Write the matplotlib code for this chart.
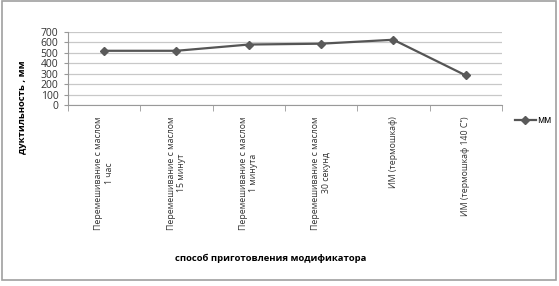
import numpy as np
import matplotlib
matplotlib.use('Agg')
from matplotlib import pyplot as plt
from matplotlib.patches import Rectangle
from matplotlib.lines import Line2D

plt.rcParams['font.family'] = ['Open Sans', 'DejaVu Sans']

categories = ['Перемешивание с маслом\n1 час',
              'Перемешивание с маслом\n15 минут',
              'Перемешивание с маслом\n1 минута',
              'Перемешивание с маслом\n30 секунд',
              'ИМ (термошкаф)',
              'ИМ (термошкаф 140 С˚)']
values = [520, 520, 580, 588, 626, 284]
y_ticks = [0, 100, 200, 300, 400, 500, 600, 700]

fig = plt.figure(figsize=(5.59, 2.86), dpi=100)
ax = fig.add_axes([0.1217, 0.633, 0.776, 0.255])

x = np.arange(len(categories))
ax.plot(x, values, color='#555555', lw=1.6, marker='D', ms=4.5,
        markerfacecolor='#5a5a5a', markeredgecolor='#5a5a5a')

ax.set_xlim(-0.5, len(categories) - 0.5)
ax.set_ylim(0, 700)
ax.set_yticks(y_ticks)
ax.yaxis.grid(True, color='#c8c8c8', lw=0.9)
ax.set_axisbelow(True)

ax.set_xticks(x)
ax.set_xticklabels(categories, rotation=90, fontsize=6.3, ha='center',
                   va='top', multialignment='center', color='#333333')
ax.tick_params(axis='x', length=0, pad=8)
ax.set_xticks(np.arange(-0.5, len(categories)), minor=True)
ax.tick_params(axis='x', which='minor', length=4, color='#999999', direction='out')
ax.tick_params(axis='y', labelsize=7.5, length=3, color='#999999', pad=4, labelcolor='#333333')

for s in ['top', 'right']:
    ax.spines[s].set_visible(False)
for s in ['left', 'bottom']:
    ax.spines[s].set_color('#999999')
    ax.spines[s].set_linewidth(0.8)

fig.text(0.04, 0.625, 'дуктильность , мм', rotation=90, ha='center', va='center',
         fontsize=6.8, fontweight='bold')
fig.text(0.485, 0.095, 'способ приготовления модификатора', ha='center', va='center',
         fontsize=6.8, fontweight='bold')

handle = Line2D([], [], color='#555555', lw=1.6, marker='D', ms=4,
                markerfacecolor='#5a5a5a', markeredgecolor='#5a5a5a')
fig.legend([handle], ['мм'], loc='center left', bbox_to_anchor=(0.905, 0.578),
           frameon=False, fontsize=7, handlelength=2.2, handletextpad=0.1)

fig.patches.append(Rectangle((0.004, 0.02), 0.99, 0.975, transform=fig.transFigure,
                             fill=False, edgecolor='#a0a0a0', lw=1.2))

fig.savefig('out.png', dpi=100)
